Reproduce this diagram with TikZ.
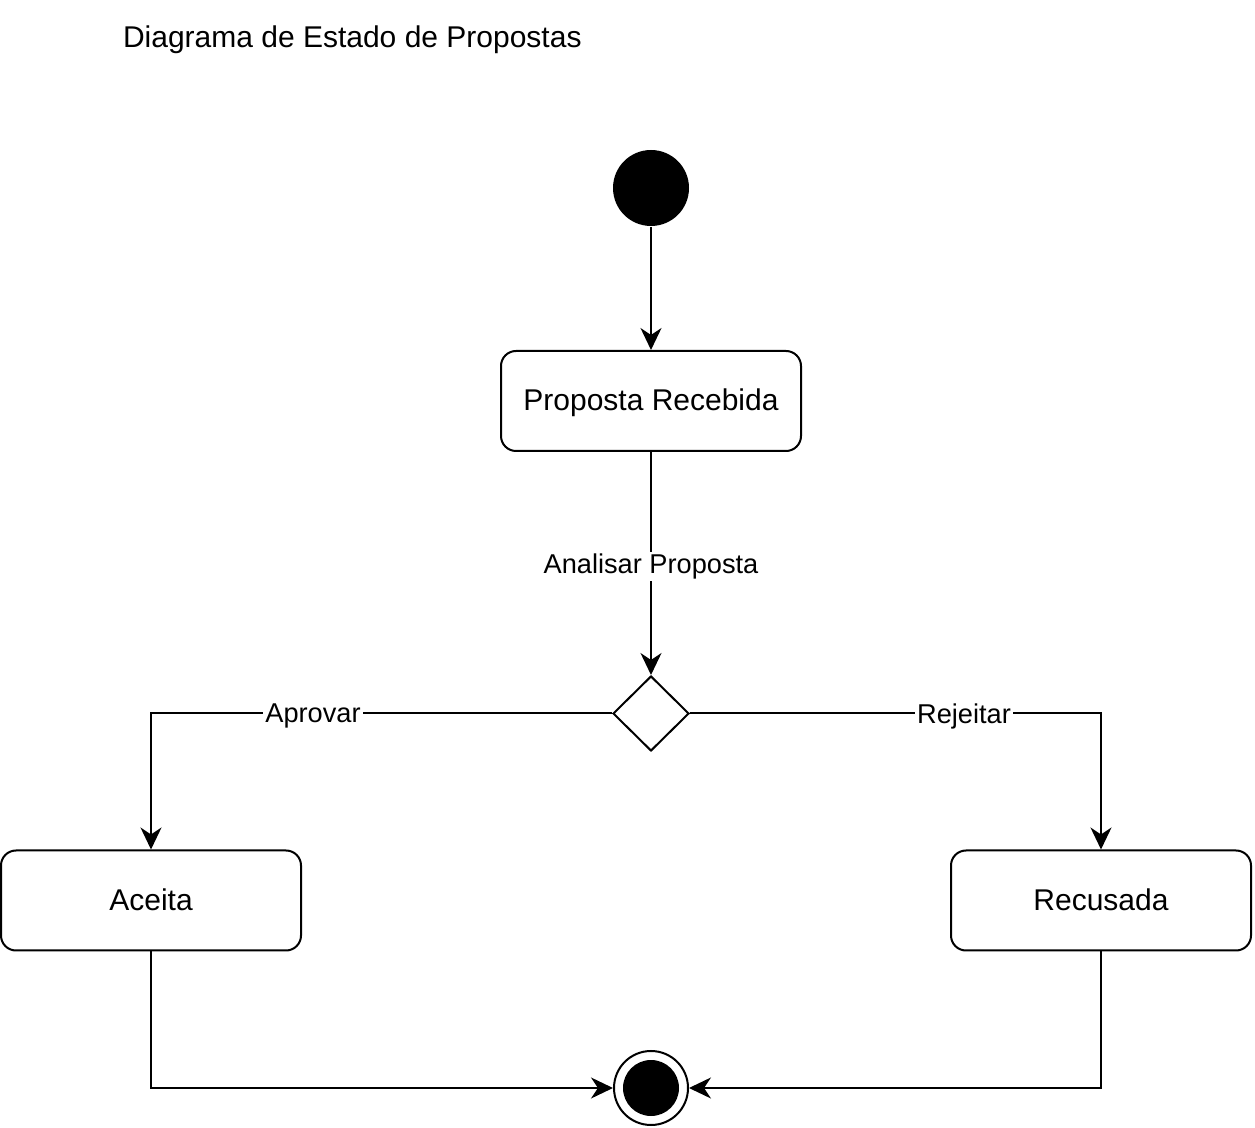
\documentclass[tikz,border=0pt]{standalone}
\usepackage{fontspec}
\setmainfont{Liberation Sans}
\usetikzlibrary{arrows.meta,shapes.geometric}
\begin{document}
\begin{tikzpicture}[x=0.5pt,y=-0.5pt,
  line width=1pt,
  statebox/.style={draw, rounded corners=7.5pt, minimum width=150pt, minimum height=50pt, inner sep=0pt, font=\fontsize{15}{18}\selectfont, fill=white, text height=12pt, text depth=2pt},
  edgelbl/.style={fill=white, inner sep=1pt, font=\fontsize{13.6}{16}\selectfont},
  flow/.style={-{Stealth[length=11pt,width=10.5pt,inset=3.5pt]}},
]
\useasboundingbox (0,0) rectangle (1255,1128);
\node[anchor=west, font=\fontsize{15}{18}\selectfont, inner sep=0pt] (title) at (122,40) {Diagrama de Estado de Propostas};

\node[circle, fill=black, minimum size=38pt, inner sep=0pt] (start) at (651,188) {};
\node[statebox] (rec) at (651,401) {Proposta Recebida};
\node[diamond, draw, fill=white, minimum width=38pt, minimum height=37.5pt, inner sep=0pt] (dec) at (651,713.5) {};
\node[statebox] (ace) at (151,900.5) {Aceita};
\node[statebox] (recu) at (1101,900.5) {Recusada};
\node[circle, draw, minimum size=37pt, inner sep=0pt] (fin) at (651,1088) {};
\node[circle, fill=black, minimum size=28pt, inner sep=0pt] (finin) at (651,1088) {};

\draw[flow] (start) -- (rec);
\draw[flow] (rec) -- node[edgelbl, pos=0.5, yshift=-1.5pt] (l1) {Analisar Proposta} (dec.north);
\draw[flow] (dec.west) -- (151,713.5) coordinate (c1) -- (ace.north);
\node[edgelbl] (l2) at (313,716) {Aprovar};
\draw[flow] (dec.east) -- (1101,713.5) coordinate (c2) -- (recu.north);
\node[edgelbl] (l3) at (964,716) {Rejeitar};
\draw[flow] (ace.south) |- (fin.west);
\draw[flow] (recu.south) |- (fin.east);
\end{tikzpicture}
\end{document}
